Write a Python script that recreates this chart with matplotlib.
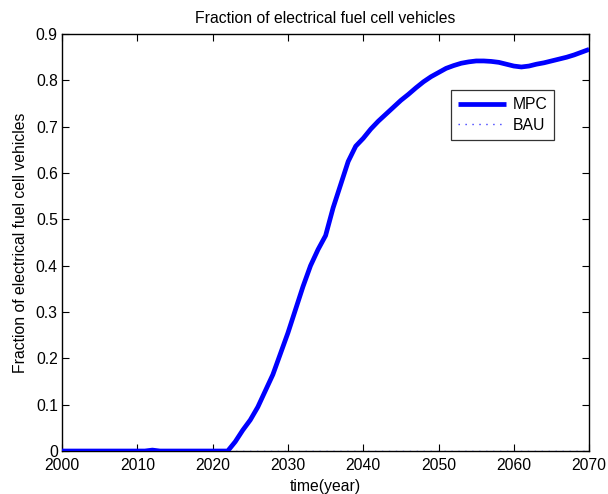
#!/usr/bin/env python3

import matplotlib
matplotlib.use("Agg")
import matplotlib.pyplot as plt

plt.rcParams["font.family"] = ["Liberation Sans", "DejaVu Sans"]

years = list(range(2000, 2071))

# MPC scenario, one value per year 2000..2070
mpc = [0.0] * 12 + [0.002] + [0.0] * 9 + [
    0.0, 0.02, 0.045, 0.067, 0.095, 0.13, 0.165, 0.21, 0.255, 0.305,
    0.355, 0.40, 0.435, 0.465, 0.525, 0.575, 0.625, 0.658, 0.675, 0.695,
    0.712, 0.727, 0.742, 0.757, 0.770, 0.784, 0.797, 0.808, 0.817, 0.826,
    0.832, 0.837, 0.840, 0.842, 0.842, 0.841, 0.839, 0.835, 0.831, 0.829,
    0.831, 0.835, 0.838, 0.842, 0.846, 0.850, 0.855, 0.861, 0.867,
]

# business as usual: no fuel cell vehicles at all
bau = [0.0] * len(years)

xticks = [2000, 2010, 2020, 2030, 2040, 2050, 2060, 2070]
yticks = [0, 0.1, 0.2, 0.3, 0.4, 0.5, 0.6, 0.7, 0.8, 0.9]

fs = 11.3

fig = plt.figure(figsize=(6.08, 4.94), dpi=100)
ax = fig.add_axes([0.102, 0.087, 0.867, 0.844])

ax.plot(years, mpc, color="#0000ff", linewidth=3.4, label="MPC",
        solid_capstyle="butt", zorder=3)
ax.plot(years, bau, color="#3b3bff", linewidth=1.0, linestyle=(0, (1, 4)),
        label="BAU", zorder=2)

ax.set_xlim(2000, 2070)
ax.set_ylim(0, 0.9)
ax.set_xticks(xticks)
ax.set_xticklabels([str(x) for x in xticks])
ax.set_yticks(yticks)
ax.set_yticklabels(["0", "0.1", "0.2", "0.3", "0.4", "0.5", "0.6", "0.7", "0.8", "0.9"])
ax.tick_params(direction="in", length=5, width=0.8, labelsize=fs,
               top=True, right=True)
ax.tick_params(axis="x", pad=5)
ax.tick_params(axis="y", pad=3)
for s in ax.spines.values():
    s.set_linewidth(1.0)

ax.set_title("Fraction of electrical fuel cell vehicles", fontsize=fs, pad=8)
ax.set_xlabel("time(year)", fontsize=fs, labelpad=4)
ax.set_ylabel("Fraction of electrical fuel cell vehicles", fontsize=fs, labelpad=6)

leg = ax.legend(loc="upper right", bbox_to_anchor=(0.934, 0.866),
                fontsize=fs, handlelength=3.1, frameon=True, fancybox=False,
                borderaxespad=0, labelspacing=0.38, handletextpad=0.4,
                borderpad=0.45)
leg.get_frame().set_edgecolor("black")
leg.get_frame().set_linewidth(0.9)

fig.savefig("out.png", dpi=100)
